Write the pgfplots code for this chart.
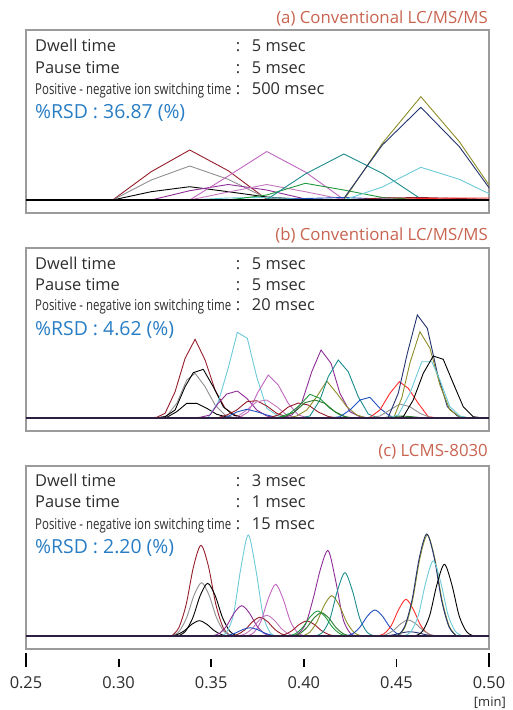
\documentclass[border=0pt]{standalone}
\usepackage{pgfplots}
\pgfplotsset{compat=1.18}
\usepackage{fontspec}
\setmainfont{Open Sans}
\definecolor{txtgray}{RGB}{45,45,45}
\definecolor{ttl}{RGB}{200,100,80}
\definecolor{rsd}{RGB}{40,125,196}
\definecolor{boxgray}{RGB}{155,155,155}
\definecolor{cdred}{RGB}{150,30,42}
\definecolor{cgray}{RGB}{143,143,143}
\definecolor{ccyan}{RGB}{108,202,216}
\definecolor{cpurple}{RGB}{142,44,150}
\definecolor{corchid}{RGB}{192,101,192}
\definecolor{cpink}{RGB}{196,120,190}
\definecolor{cblue}{RGB}{32,80,192}
\definecolor{cteal}{RGB}{26,140,140}
\definecolor{cgreen}{RGB}{30,154,60}
\definecolor{cgreenb}{RGB}{42,122,42}
\definecolor{colive}{RGB}{140,140,40}
\definecolor{cnavy}{RGB}{34,51,110}
\definecolor{cred}{RGB}{255,42,42}
\definecolor{cbase}{RGB}{46,30,64}
\pgfplotsset{panel/.style={width=463pt, height=183pt, scale only axis,
  xmin=0.25, xmax=0.50, ymin=-13, ymax=170, xtick=\empty, ytick=\empty,
  axis line style={draw=boxgray, line width=1.3pt}, anchor=south west,
  every axis plot/.append style={line width=0.9pt}}}
\tikzset{lab/.style={anchor=base west, inner sep=0pt, text=txtgray, font=\fontsize{16.4}{19}\selectfont},
  sml/.style={anchor=base west, inner sep=0pt, text=txtgray, font=\fontsize{15}{18}\selectfont},
  ttlst/.style={anchor=base east, inner sep=0pt, text=ttl, font=\fontsize{16.8}{20}\selectfont},
  rsdst/.style={anchor=base west, inner sep=0pt, text=rsd, font=\fontsize{19.4}{23}\selectfont}}
\begin{document}
\begin{tikzpicture}[x=1pt,y=1pt]
\useasboundingbox (0,0) rectangle (512,-710);
% ---------------- panel (a)
\begin{axis}[panel, at={(26pt,-213pt)}]
\addplot[cdred] coordinates {(0.2968,0) (0.3176,28.3) (0.3384,50) (0.3592,29.3) (0.3800,0.7) (0.4008,0)};
\addplot[cgray] coordinates {(0.2968,0) (0.3176,20) (0.3384,34) (0.3592,20.7) (0.3800,1.7) (0.4008,0)};
\addplot[black] coordinates {(0.2968,0) (0.3176,8.3) (0.3384,13.3) (0.3592,8.3) (0.3800,3) (0.4008,0.5) (0.4216,0)};
\addplot[cpurple] coordinates {(0.3176,0) (0.3384,9.3) (0.3592,15.5) (0.3800,10) (0.4008,1) (0.4216,0)};
\addplot[cpink] coordinates {(0.3384,0) (0.3592,8) (0.3800,15.5) (0.4008,8.3) (0.4216,0.5) (0.4424,0)};
\addplot[corchid] coordinates {(0.3384,0) (0.3592,24) (0.3800,48.5) (0.4008,28) (0.4216,0.5) (0.4424,0)};
\addplot[ccyan] coordinates {(0.3384,0) (0.3592,2) (0.3800,2.5) (0.4008,1) (0.4216,0)};
\addplot[cblue] coordinates {(0.3800,0) (0.4008,1.5) (0.4216,2.5) (0.4424,1) (0.4632,0)};
\addplot[cgreen] coordinates {(0.3592,0) (0.3800,5) (0.4008,16.7) (0.4216,10) (0.4424,2.5) (0.4632,0.5) (0.4840,0)};
\addplot[cteal] coordinates {(0.3800,0.5) (0.4008,26) (0.4216,46) (0.4424,26.7) (0.4632,1) (0.4840,0)};
\addplot[colive] coordinates {(0.4216,0) (0.4424,56.7) (0.4632,103.3) (0.4840,58.3) (0.5048,2)};
\addplot[cnavy] coordinates {(0.4216,1.5) (0.4424,55) (0.4632,92.7) (0.4840,53.3) (0.5048,0)};
\addplot[ccyan] coordinates {(0.4216,0) (0.4424,13) (0.4632,32.7) (0.4840,20.7) (0.5048,2)};
\addplot[cdred] coordinates {(0.4216,0) (0.4424,2) (0.4632,2.5) (0.4840,1.5) (0.5048,0.5)};
\addplot[cred] coordinates {(0.4424,0) (0.4632,1.5) (0.4840,2) (0.5048,2)};
\addplot[black, line width=1.8pt] coordinates {(0.25,0) (0.50,0)};
\end{axis}
% ---------------- panel (b)
\begin{axis}[panel, at={(26pt,-431pt)}]
\addplot[cdred] coordinates {(0.3152,0) (0.3206,0.7) (0.3251,4.7) (0.3305,26.3) (0.3359,59.7) (0.3413,78.7) (0.3467,58) (0.3521,28) (0.3575,9.7) (0.3628,3) (0.3682,0)};
\addplot[cgray] coordinates {(0.3206,0) (0.3260,2) (0.3314,14.7) (0.3368,38) (0.3413,44.7) (0.3467,31.3) (0.3521,13) (0.3575,3) (0.3628,0)};
\addplot[black] coordinates {(0.3197,0) (0.3251,1.3) (0.3305,8) (0.3359,31.3) (0.3403,45.3) (0.3457,48.7) (0.3511,31.3) (0.3565,11.3) (0.3619,3) (0.3673,0)};
\addplot[black] coordinates {(0.3206,0) (0.3260,0.7) (0.3314,6.3) (0.3368,14.7) (0.3422,14.7) (0.3476,9.7) (0.3530,3.7) (0.3584,1) (0.3638,0)};
\addplot[ccyan] coordinates {(0.3430,0) (0.3484,0.7) (0.3538,16) (0.3592,50) (0.3641,85.7) (0.3695,79.7) (0.3746,41) (0.3800,9.7) (0.3854,3) (0.3908,0)};
\addplot[cpurple] coordinates {(0.3386,0) (0.3440,0.7) (0.3494,3) (0.3538,14.7) (0.3584,24) (0.3641,27) (0.3692,19.7) (0.3746,8) (0.3800,2) (0.3854,0)};
\addplot[corchid] coordinates {(0.3646,0) (0.3700,6) (0.3754,26.3) (0.3808,43) (0.3862,33) (0.3916,14.7) (0.3970,3) (0.4024,0)};
\addplot[cdred] coordinates {(0.3530,0) (0.3584,3) (0.3638,8) (0.3692,16.3) (0.3746,17.3) (0.3800,12) (0.3854,4.7) (0.3908,1) (0.3962,0)};
\addplot[cpink] coordinates {(0.3584,0) (0.3638,1) (0.3692,8) (0.3746,16.3) (0.3800,18) (0.3854,11.3) (0.3908,3) (0.3962,0)};
\addplot[cblue] coordinates {(0.3530,0) (0.3584,1) (0.3638,6) (0.3692,8.7) (0.3746,6.3) (0.3800,3) (0.3854,0.5) (0.3908,0)};
\addplot[cdred] coordinates {(0.3808,0) (0.3862,3) (0.3916,11) (0.3970,15) (0.4024,13) (0.4078,6) (0.4132,1.5) (0.4186,0)};
\addplot[cpurple] coordinates {(0.3881,0) (0.3935,3) (0.3989,15.3) (0.4043,46.3) (0.4093,68) (0.4147,54.7) (0.4195,24.7) (0.4249,6.3) (0.4303,1.3) (0.4357,0)};
\addplot[colive] coordinates {(0.3908,0) (0.3962,2) (0.4016,8) (0.4070,21.3) (0.4124,37) (0.4178,24.7) (0.4232,11.3) (0.4286,3) (0.4340,0)};
\addplot[cteal] coordinates {(0.3979,0) (0.4033,2) (0.4087,18) (0.4132,41.3) (0.4186,58) (0.4240,46.3) (0.4294,21.3) (0.4348,4) (0.4402,0)};
\addplot[cgreen] coordinates {(0.3817,0) (0.3871,1) (0.3925,4.7) (0.3979,13) (0.4033,23.7) (0.4087,19.7) (0.4141,9.7) (0.4195,3) (0.4249,0)};
\addplot[cgreenb] coordinates {(0.3844,0) (0.3898,1.5) (0.3952,6.3) (0.4006,15.3) (0.4060,18) (0.4114,14.7) (0.4168,6.3) (0.4222,1.3) (0.4276,0)};
\addplot[cblue] coordinates {(0.4141,0) (0.4195,1.3) (0.4249,8) (0.4303,18) (0.4357,20.7) (0.4411,9.7) (0.4465,2) (0.4519,0)};
\addplot[cred] coordinates {(0.4303,0) (0.4357,0.7) (0.4411,8) (0.4465,24.7) (0.4516,36.3) (0.4564,29.7) (0.4618,14.7) (0.4672,1.3) (0.4726,0)};
\addplot[cgray] coordinates {(0.4357,0) (0.4411,2) (0.4465,8) (0.4519,14) (0.4573,11.3) (0.4627,4.7) (0.4681,0.7) (0.4735,0)};
\addplot[cgreenb] coordinates {(0.4411,0) (0.4465,1) (0.4519,2) (0.4573,1.5) (0.4627,0.5) (0.4681,0)};
\addplot[cnavy] coordinates {(0.4402,0) (0.4456,0.7) (0.4510,24.7) (0.4559,64.7) (0.4613,103) (0.4667,89.7) (0.4721,44.7) (0.4775,11.3) (0.4829,2) (0.4883,0)};
\addplot[colive] coordinates {(0.4433,0) (0.4487,1) (0.4529,20) (0.4573,55) (0.4627,86.3) (0.4681,69.7) (0.4735,33) (0.4789,8) (0.4843,1.3) (0.4897,0)};
\addplot[ccyan] coordinates {(0.4456,0) (0.4510,3) (0.4573,24.7) (0.4637,56.3) (0.4691,56.3) (0.4735,38) (0.4789,11.3) (0.4843,2) (0.4897,0)};
\addplot[black] coordinates {(0.4483,0) (0.4537,1.3) (0.4591,18) (0.4645,44.7) (0.4699,62) (0.4753,58.7) (0.4807,34.7) (0.4861,11.3) (0.4915,1.3) (0.4969,0)};
\addplot[cbase, line width=1.8pt] coordinates {(0.25,0) (0.50,0)};
\end{axis}
% ---------------- panel (c)
\begin{axis}[panel, at={(26pt,-649pt)}, every axis plot/.append style={smooth}]
\addplot[cdred] coordinates {(0.3285,0) (0.3325,8.2) (0.3365,31.7) (0.3405,69.8) (0.3445,90.7) (0.3485,69.8) (0.3525,31.7) (0.3565,8.2) (0.3605,0)};
\addplot[cgray] coordinates {(0.3288,0) (0.3328,4.8) (0.3368,18.7) (0.3408,41.0) (0.3448,53.3) (0.3488,41.0) (0.3528,18.7) (0.3568,4.8) (0.3608,0)};
\addplot[black] coordinates {(0.3321,0) (0.3361,4.7) (0.3401,18.4) (0.3441,40.6) (0.3481,52.7) (0.3521,40.6) (0.3561,18.4) (0.3601,4.7) (0.3641,0)};
\addplot[black] coordinates {(0.3276,0) (0.3316,1.4) (0.3356,5.4) (0.3396,11.8) (0.3436,15.3) (0.3476,11.8) (0.3516,5.4) (0.3556,1.4) (0.3596,0)};
\addplot[ccyan] coordinates {(0.3540,0) (0.3580,3.0) (0.3620,21.2) (0.3660,67.7) (0.3700,101) (0.3740,67.7) (0.3780,21.2) (0.3820,3.0) (0.3860,0)};
\addplot[cpurple] coordinates {(0.3505,0) (0.3545,2.7) (0.3585,10.6) (0.3625,23.3) (0.3665,30.3) (0.3705,23.3) (0.3745,10.6) (0.3785,2.7) (0.3825,0)};
\addplot[corchid] coordinates {(0.3688,0) (0.3728,3.1) (0.3768,14.5) (0.3808,37.2) (0.3848,51.7) (0.3888,37.2) (0.3928,14.5) (0.3968,3.1) (0.4008,0)};
\addplot[cdred] coordinates {(0.3604,0) (0.3644,1.7) (0.3684,6.5) (0.3724,14.4) (0.3764,18.7) (0.3804,14.4) (0.3844,6.5) (0.3884,1.7) (0.3924,0)};
\addplot[cpink] coordinates {(0.3640,0) (0.3680,1.9) (0.3720,7.2) (0.3760,15.9) (0.3800,20.7) (0.3840,15.9) (0.3880,7.2) (0.3920,1.9) (0.3960,0)};
\addplot[cblue] coordinates {(0.3550,0) (0.3590,0.7) (0.3630,2.9) (0.3670,6.4) (0.3710,8.3) (0.3750,6.4) (0.3790,2.9) (0.3830,0.7) (0.3870,0)};
\addplot[cdred] coordinates {(0.3856,0) (0.3896,1.4) (0.3936,5.3) (0.3976,11.6) (0.4016,15) (0.4056,11.6) (0.4096,5.3) (0.4136,1.4) (0.4176,0)};
\addplot[cpurple] coordinates {(0.3932,0) (0.3972,2.6) (0.4012,12.8) (0.4052,38.4) (0.4092,68.2) (0.4132,85.3) (0.4172,55.4) (0.4212,17.1) (0.4252,2.6) (0.4292,0)};
\addplot[colive] coordinates {(0.3991,0) (0.4031,3.6) (0.4071,14.1) (0.4111,31.0) (0.4151,40.3) (0.4191,31.0) (0.4231,14.1) (0.4271,3.6) (0.4311,0)};
\addplot[cteal] coordinates {(0.4062,0) (0.4102,3.8) (0.4142,17.7) (0.4182,45.6) (0.4222,63.3) (0.4262,45.6) (0.4302,17.7) (0.4342,3.8) (0.4382,0)};
\addplot[cgreen] coordinates {(0.3915,0) (0.3955,2.3) (0.3995,8.8) (0.4035,19.3) (0.4075,25) (0.4115,19.3) (0.4155,8.8) (0.4195,2.3) (0.4235,0)};
\addplot[cgreenb] coordinates {(0.3935,0) (0.3975,2.1) (0.4015,8.2) (0.4055,17.9) (0.4095,23.3) (0.4135,17.9) (0.4175,8.2) (0.4215,2.1) (0.4255,0)};
\addplot[cblue] coordinates {(0.4224,0) (0.4264,2.3) (0.4304,9.1) (0.4344,20.0) (0.4384,26) (0.4424,20.0) (0.4464,9.1) (0.4504,2.3) (0.4544,0)};
\addplot[cred] coordinates {(0.4392,0) (0.4432,2.2) (0.4472,10.3) (0.4512,26.4) (0.4552,36.7) (0.4592,26.4) (0.4632,10.3) (0.4672,2.2) (0.4712,0)};
\addplot[cgray] coordinates {(0.4404,0) (0.4444,1.4) (0.4484,5.6) (0.4524,12.3) (0.4564,16) (0.4604,12.3) (0.4644,5.6) (0.4684,1.4) (0.4724,0)};
\addplot[cnavy] coordinates {(0.4413,0) (0.4453,0.4) (0.4493,1.5) (0.4533,3.3) (0.4573,4.3) (0.4613,3.3) (0.4653,1.5) (0.4693,0.4) (0.4733,0)};
\addplot[colive] coordinates {(0.4507,0) (0.4547,9.1) (0.4587,35.4) (0.4627,77.8) (0.4667,101) (0.4707,77.8) (0.4747,35.4) (0.4787,9.1) (0.4827,0)};
\addplot[cnavy] coordinates {(0.4504,0) (0.4544,9.2) (0.4584,35.7) (0.4624,78.5) (0.4664,102) (0.4704,78.5) (0.4744,35.7) (0.4784,9.2) (0.4824,0)};
\addplot[ccyan] coordinates {(0.4539,0) (0.4579,4.5) (0.4619,21) (0.4659,54) (0.4699,75) (0.4739,54) (0.4779,21) (0.4819,4.5) (0.4859,0)};
\addplot[black] coordinates {(0.4599,0) (0.4639,4.3) (0.4679,20.1) (0.4719,51.6) (0.4759,71.7) (0.4799,51.6) (0.4839,20.1) (0.4879,4.3) (0.4919,0)};
\addplot[cbase, line width=1.8pt, sharp plot] coordinates {(0.25,0) (0.50,0)};
\end{axis}
% ---------------- time axis
\begin{axis}[at={(26pt,-667pt)}, anchor=south west, width=463pt, height=20pt, scale only axis,
  xmin=0.25, xmax=0.50, ymin=0, ymax=1,
  axis x line=bottom, axis y line=none, x axis line style={draw=none,-},
  xtick={0.25,0.30,0.35,0.40,0.45,0.50}, xticklabels={0.25,0.30,0.35,0.40,0.45,0.50},
  extra x ticks={0.25,0.50}, extra x tick labels={}, extra x tick style={major tick length=14pt},
  tick align=inside, major tick length=8pt, tick style={draw=black, line width=1.8pt},
  xticklabel style={font=\fontsize{16.4}{19}\selectfont, text=txtgray, yshift=-6pt}]
\addplot[draw=none] coordinates {(0.3,0.5)};
\end{axis}
\node[anchor=base east, inner sep=0pt, text=txtgray, font=\fontsize{13}{15}\selectfont] at (506,-706) {[min]};
% ---------------- texts
\node[ttlst] at (488,-23.3) {(a) Conventional LC/MS/MS};
\node[lab] at (35,-51.7) {Dwell time};
\node[lab, anchor=base] at (238,-51.7) {:};
\node[lab] at (251.7,-51.7) {5 msec};
\node[lab] at (35,-73.3) {Pause time};
\node[lab, anchor=base] at (238,-73.3) {:};
\node[lab] at (251.7,-73.3) {5 msec};
\node[sml] at (35,-94) {\resizebox{196pt}{\height}{Positive - negative ion switching time}};
\node[lab, anchor=base] at (238,-94) {:};
\node[lab] at (251.7,-94) {500 msec};
\node[rsdst] at (35,-118) {\%RSD : 36.87 (\%)};
%
\node[ttlst] at (488,-240) {(b) Conventional LC/MS/MS};
\node[lab] at (35,-269.3) {Dwell time};
\node[lab, anchor=base] at (238,-269.3) {:};
\node[lab] at (251.7,-269.3) {5 msec};
\node[lab] at (35,-290) {Pause time};
\node[lab, anchor=base] at (238,-290) {:};
\node[lab] at (251.7,-290) {5 msec};
\node[sml] at (35,-310.7) {\resizebox{196pt}{\height}{Positive - negative ion switching time}};
\node[lab, anchor=base] at (238,-310.7) {:};
\node[lab] at (251.7,-310.7) {20 msec};
\node[rsdst] at (35,-335) {\%RSD : 4.62 (\%)};
%
\node[ttlst] at (488,-456.7) {(c) LCMS-8030};
\node[lab] at (35,-486.7) {Dwell time};
\node[lab, anchor=base] at (238,-486.7) {:};
\node[lab] at (251.7,-486.7) {3 msec};
\node[lab] at (35,-507.3) {Pause time};
\node[lab, anchor=base] at (238,-507.3) {:};
\node[lab] at (251.7,-507.3) {1 msec};
\node[sml] at (35,-529.3) {\resizebox{196pt}{\height}{Positive - negative ion switching time}};
\node[lab, anchor=base] at (238,-529.3) {:};
\node[lab] at (251.7,-529.3) {15 msec};
\node[rsdst] at (35,-553.3) {\%RSD : 2.20 (\%)};
\end{tikzpicture}
\end{document}
